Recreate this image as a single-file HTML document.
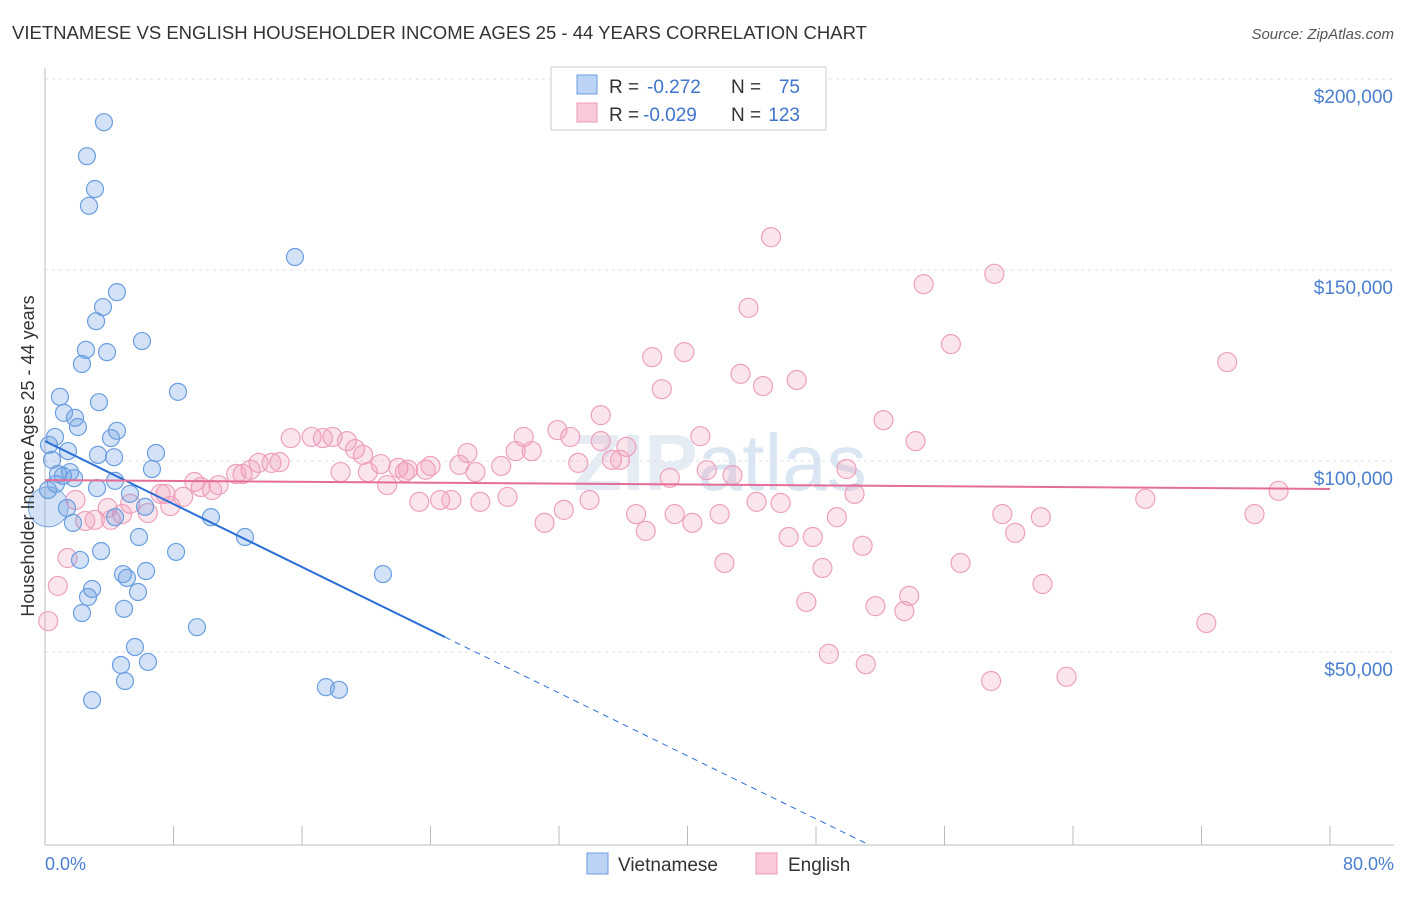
<!DOCTYPE html>
<html><head><meta charset="utf-8">
<style>
body{margin:0;background:#fff;font-family:"Liberation Sans",sans-serif;}
svg text{font-family:"Liberation Sans",sans-serif;}
</style></head>
<body>
<svg id="chart" width="1406" height="892" xmlns="http://www.w3.org/2000/svg">
<text x="12" y="39" font-size="18" fill="#333" textLength="855" lengthAdjust="spacingAndGlyphs">VIETNAMESE VS ENGLISH HOUSEHOLDER INCOME AGES 25 - 44 YEARS CORRELATION CHART</text>
<text x="1394" y="39" font-size="15" fill="#555" text-anchor="end" font-style="italic">Source: ZipAtlas.com</text>
<text x="720" y="490" font-size="80" fill="#e6ecf4" text-anchor="middle" font-weight="bold">ZIP<tspan font-weight="normal" fill="#dbe6f3">atlas</tspan></text>
<g id="grid"></g>
<g id="axes"></g>
<g id="pts"></g>
<g id="trend"></g>
<text transform="translate(34,456) rotate(-90)" font-size="18" fill="#333" text-anchor="middle">Householder Income Ages 25 - 44 years</text>
<text x="45" y="870" font-size="18" fill="#4a7fd0">0.0%</text>
<text x="1394" y="870" font-size="18" fill="#4a7fd0" text-anchor="end">80.0%</text>
<g>
<rect x="551" y="67" width="275" height="63" fill="#fff" stroke="#ccc"/>
<rect x="577" y="75" width="20" height="19" fill="#bcd3f5" stroke="#6a9ee0"/>
<rect x="577" y="103" width="20" height="19" fill="#f9c9d9" stroke="#ec9ab8"/>
<text x="609" y="93" font-size="19" fill="#333">R =</text>
<text x="647" y="93" font-size="19" fill="#3f74cc">-0.272</text>
<text x="731" y="93" font-size="19" fill="#333">N =</text>
<text x="800" y="93" font-size="19" fill="#3f74cc" text-anchor="end">75</text>
<text x="609" y="121" font-size="19" fill="#333">R =</text>
<text x="643" y="121" font-size="19" fill="#3f74cc">-0.029</text>
<text x="731" y="121" font-size="19" fill="#333">N =</text>
<text x="800" y="121" font-size="19" fill="#3f74cc" text-anchor="end">123</text>
</g>
<g>
<rect x="587" y="853" width="21" height="21" fill="#bcd3f5" stroke="#6a9ee0"/>
<text x="618" y="871" font-size="19" fill="#333">Vietnamese</text>
<rect x="756" y="853" width="21" height="21" fill="#f9c9d9" stroke="#ec9ab8"/>
<text x="788" y="871" font-size="19" fill="#333">English</text>
</g>
</svg>
<script>
const yTicks=[50,100,150,200];
const yTickLabels=["$50,000","$100,000","$150,000","$200,000"];
const blueX=[3.67,2.61,3.11,2.74,15.56,4.48,3.61,3.18,6.04,2.55,3.86,2.30,8.28,0.93,3.36,1.18,1.87,2.05,4.48,0.62,4.11,0.25,1.43,3.30,4.30,6.91,0.44,6.66,1.56,0.81,1.12,1.81,4.36,0.68,0.19,3.24,5.29,6.23,1.37,4.36,10.33,1.74,5.85,12.45,3.49,8.16,2.18,6.29,21.04,4.86,5.10,2.93,5.79,2.68,4.92,2.30,9.46,5.60,4.73,6.41,4.98,17.49,18.30,2.93];
const blueY=[188.7,179.8,171.2,166.8,153.4,144.2,140.3,136.6,131.4,129.1,128.5,125.4,118.1,116.8,115.4,112.6,111.3,108.9,107.9,106.3,106.0,104.2,102.6,101.6,101.0,102.1,100.3,97.9,97.1,96.6,96.1,95.5,94.8,94.0,92.4,92.9,91.4,88.0,87.7,85.3,85.3,83.8,80.1,80.1,76.4,76.2,74.1,71.2,70.4,70.4,69.4,66.5,65.7,64.4,61.3,60.2,56.5,51.3,46.6,47.4,42.4,40.8,40.1,37.4];
const pinkX=[45.2,59.1,54.7,43.8,56.4,39.8,37.8,73.6,43.3,46.8,44.7,38.4,34.6,52.2,31.9,40.8,29.8,32.7,54.2,34.6,36.2,26.3,29.3,30.3,41.2,42.8,49.9,33.2,28.4,25.8,
15.3,16.6,17.3,17.9,18.8,19.3,19.8,35.3,35.8,24.0,23.7,20.9,22.0,22.4,22.6,26.8,18.4,20.1,21.3,13.3,14.1,14.6,12.8,12.3,11.9,10.8,10.4,9.7,9.3,8.6,7.5,7.2,6.4,5.3,4.8,4.1,3.1,2.5,3.9,7.8,1.9,1.4,0.8,0.2,
38.9,24.6,25.3,23.3,27.1,28.8,33.9,50.4,44.3,45.8,68.5,76.8,32.3,36.8,39.2,42.0,49.3,59.6,62.0,75.3,31.1,40.3,37.4,60.4,46.3,47.8,50.9,42.3,48.4,57.0,62.1,53.8,47.4,51.7,53.5,72.3,48.8,51.1,58.9,63.6];
const pinkY=[158.6,149.0,146.3,140.1,130.6,128.5,127.2,125.9,122.8,121.2,119.6,118.8,112.0,110.7,108.1,106.5,106.3,106.3,105.2,105.2,103.7,102.1,102.6,102.6,97.6,96.3,97.9,99.5,98.7,99.0,
106.0,106.3,106.0,106.3,105.2,103.1,101.6,100.3,100.3,98.7,97.7,99.2,98.2,97.1,97.7,97.1,97.1,97.1,93.7,99.5,99.5,99.7,97.7,96.6,96.6,93.7,92.4,93.2,94.5,90.6,91.4,91.4,86.4,88.8,86.1,84.6,84.6,84.3,87.7,88.2,89.8,74.6,67.3,58.1,
95.6,89.8,89.8,89.3,89.3,90.6,89.8,91.4,89.3,89.0,90.1,92.2,87.2,86.1,86.1,86.1,85.3,86.1,85.3,86.1,83.8,83.8,81.7,81.2,80.1,80.1,77.8,73.3,72.0,73.3,67.8,64.7,63.1,62.0,60.7,57.6,49.5,46.8,42.4,43.5];
const blueTrend=[105.2,-2.06], blueSolidEnd=24.9;
const pinkTrend=[95.0,-0.029];
const NS="http://www.w3.org/2000/svg";
const X0=45,X1=1330,Y0=843,YPX=191/50;
function sx(v){return X0+(X1-X0)*v/80;}
function sy(v){return Y0-v*YPX;}
function mk(tag,attrs,parent){const e=document.createElementNS(NS,tag);for(const k in attrs)e.setAttribute(k,attrs[k]);parent.appendChild(e);return e;}
const grid=document.getElementById('grid'),axes=document.getElementById('axes'),pts=document.getElementById('pts'),trend=document.getElementById('trend');
yTicks.forEach((t,i)=>{
 const l=mk('line',{x1:45,x2:1394,y1:sy(t),y2:sy(t),stroke:'#dde',"stroke-dasharray":'3,4'},grid);
 
 
 const tx=mk('text',{x:1393,y:sy(t)+24,"font-size":19,fill:'#4a7fd0',"text-anchor":'end'},axes);
 tx.textContent=yTickLabels[i];
 
 
});
const ax=mk('line',{x1:45,x2:1394,y1:845,y2:845,stroke:'#bbb'},axes);


const ay=mk('line',{x1:45,x2:45,y1:68,y2:845,stroke:'#bbb'},axes);


for(let i=0;i<=10;i++){
 const t=mk('line',{x1:sx(i*8),x2:sx(i*8),y1:826,y2:845,stroke:'#bbb'},axes);
 
 
}
const bc=mk('circle',{cx:sx(0.2),cy:sy(88),r:20,fill:'rgba(110,158,224,0.3)',stroke:'#7aa6e2'},pts);


pinkX.forEach((v,i)=>{
 const c=mk('circle',{cx:sx(v),cy:sy(pinkY[i]),r:9.5,fill:'rgba(240,150,180,0.25)',stroke:'#eda0bd',"stroke-width":1.2},pts);
 
 
});
blueX.forEach((v,i)=>{
 const c=mk('circle',{cx:sx(v),cy:sy(blueY[i]),r:8.5,fill:'rgba(110,158,224,0.3)',stroke:'#6a9ee0',"stroke-width":1.2},pts);
 
 
});
const zero=-blueTrend[0]/blueTrend[1];
const b1=mk('line',{x1:sx(0),y1:sy(blueTrend[0]),x2:sx(blueSolidEnd),y2:sy(blueTrend[0]+blueTrend[1]*blueSolidEnd),stroke:'#2a6fd6',"stroke-width":2},trend);


const b2=mk('line',{x1:sx(blueSolidEnd),y1:sy(blueTrend[0]+blueTrend[1]*blueSolidEnd),x2:sx(zero),y2:sy(0),stroke:'#2a6fd6',"stroke-width":1,"stroke-dasharray":'6,5'},trend);


const p1=mk('line',{x1:sx(0),y1:sy(pinkTrend[0]),x2:sx(80),y2:sy(pinkTrend[0]+pinkTrend[1]*80),stroke:'#e46e98',"stroke-width":2},trend);


</script>
</body></html>
